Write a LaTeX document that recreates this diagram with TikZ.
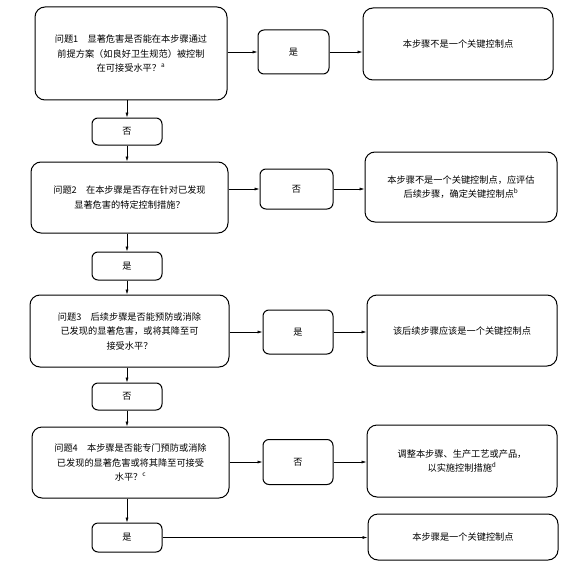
\documentclass[tikz,border=0pt]{standalone}
\usepackage{fontspec}
\setmainfont{Noto Sans CJK SC}
\usetikzlibrary{arrows.meta,positioning}

\begin{document}
\begin{tikzpicture}[x=1pt,y=-1pt,
  every node/.style={font=\fontsize{9.2}{14.5}\selectfont},
  bigbox/.style 2 args={draw,line width=1pt,rounded corners=10pt,align=center,
    inner sep=0pt,minimum width=#1pt,minimum height=#2pt},
  smallbox/.style 2 args={draw,line width=1pt,rounded corners=6pt,align=center,
    inner sep=0pt,minimum width=#1pt,minimum height=#2pt},
  arr/.style={line width=0.6pt,-{Latex[length=5pt,width=3pt]}}]
\useasboundingbox (0,0) rectangle (588,575);
% left column: questions
\node[bigbox={192}{93}] (q1) at (131,53.5) {问题1　显著危害是否能在本步骤通过\\前提方案（如良好卫生规范）被控制\\在可接受水平？\textsuperscript{a}};
\node[smallbox={70}{27}] (n1) at (127,131.5) {否};
\node[bigbox={197}{71}] (q2) at (129.5,197.5) {问题2　在本步骤是否存在针对已发现\\显著危害的特定控制措施？};
\node[smallbox={70}{28}] (y2) at (127,266) {是};
\node[bigbox={199}{72}] (q3) at (129.5,331) {问题3　后续步骤是否能预防或消除\\已发现的显著危害，或将其降至可\\接受水平？};
\node[smallbox={70}{27}] (n3) at (127,396.5) {否};
\node[bigbox={197}{71}] (q4) at (130.5,462.5) {问题4　本步骤是否能专门预防或消除\\已发现的显著危害或将其降至可接受\\水平？\textsuperscript{c}};
\node[smallbox={70}{29}] (y5) at (127,537.5) {是};
% middle column: answers
\node[smallbox={71}{44}] (y1) at (293.5,52) {是};
\node[smallbox={73}{40}] (n2) at (296.5,189) {否};
\node[smallbox={70}{44}] (y3) at (298,332) {是};
\node[smallbox={70}{45}] (n4) at (298,462) {否};
% right column: results
\node[bigbox={190}{72}] (r1) at (458,44) {本步骤不是一个关键控制点};
\node[bigbox={192}{70}] (r2) at (461,187) {本步骤不是一个关键控制点，应评估\\后续步骤，确定关键控制点\textsuperscript{b}};
\node[bigbox={190}{71}] (r3) at (462,330.5) {该后续步骤应该是一个关键控制点};
\node[bigbox={190}{72}] (r4) at (462,461) {调整本步骤、生产工艺或产品，\\以实施控制措施\textsuperscript{d}};
\node[bigbox={190}{46}] (r5) at (463,537) {本步骤是一个关键控制点};
% vertical connectors
\draw[arr] (n1.north |- q1.south) -- (n1.north);
\draw[arr] (n1.south) -- (n1.south |- q2.north);
\draw[arr] (y2.north |- q2.south) -- (y2.north);
\draw[arr] (y2.south) -- (y2.south |- q3.north);
\draw[arr] (n3.north |- q3.south) -- (n3.north);
\draw[arr] (n3.south) -- (n3.south |- q4.north);
\draw[arr] (y5.north |- q4.south) -- (y5.north);
% horizontal connectors
\draw[arr] (q1.east |- y1) -- (y1.west);
\draw[arr] (y1.east) -- (y1.east -| r1.west);
\draw[arr] (q2.east |- n2) -- (n2.west);
\draw[arr] (n2.east) -- (n2.east -| r2.west);
\draw[arr] (q3.east |- y3) -- (y3.west);
\draw[arr] (y3.east) -- (y3.east -| r3.west);
\draw[arr] (q4.east |- n4) -- (n4.west);
\draw[arr] (n4.east) -- (n4.east -| r4.west);
\draw[arr] (y5.east) -- (y5.east -| r5.west);
\end{tikzpicture}
\end{document}
